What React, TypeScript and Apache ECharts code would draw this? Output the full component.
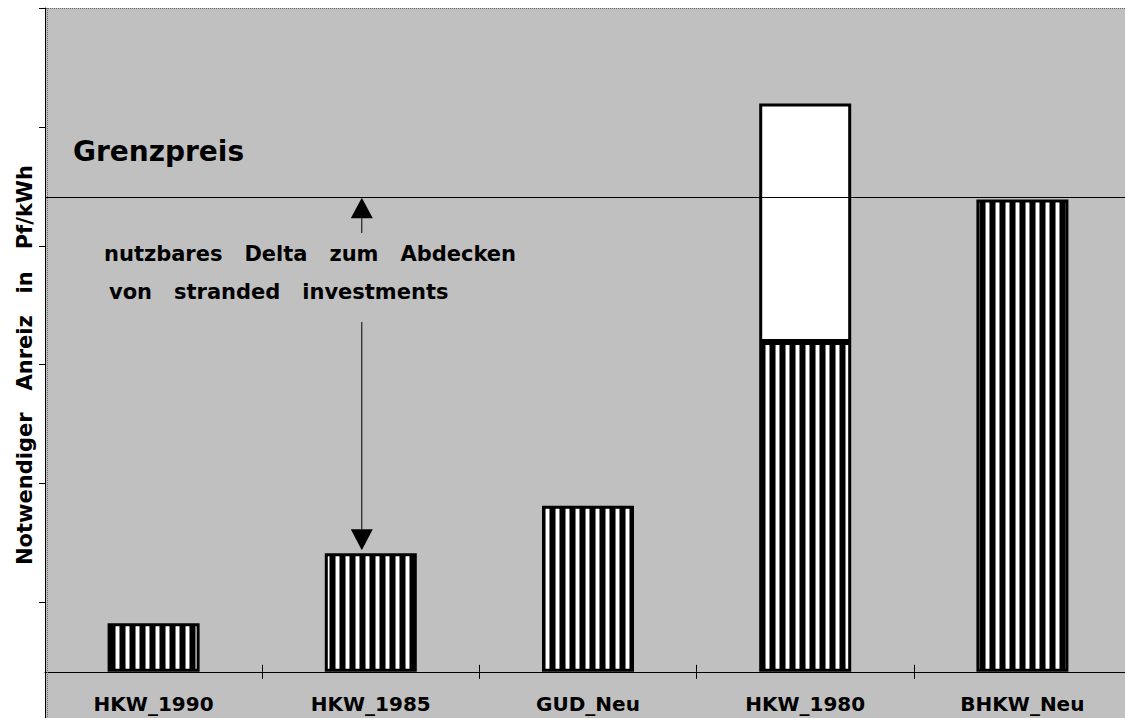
import React, { useEffect, useRef } from 'react';
import * as echarts from 'echarts';

// ---- data ----
const categories = ['HKW_1990', 'HKW_1985', 'GUD_Neu', 'HKW_1980', 'BHKW_Neu'];
const baseValues = [0.41, 1.0, 1.4, 2.78, 3.98];
const extraValues: (number | null)[] = [null, null, null, 2.01, null];
const grenzpreis = 4.0;
const yMin = -0.406;
const yMax = 5.594;
const yInterval = 1;
const yAxisTitle = 'Notwendiger   Anreiz   in   Pf/kWh';
const grenzLabel = 'Grenzpreis';
const deltaLines = ['nutzbares   Delta   zum   Abdecken', 'von   stranded   investments'];

const FONT = '"DejaVu Sans", "Liberation Sans", Arial, sans-serif';

function makeStripes(): HTMLCanvasElement {
  const c = document.createElement('canvas');
  c.width = 10;
  c.height = 10;
  const ctx = c.getContext('2d')!;
  ctx.fillStyle = '#ffffff';
  ctx.fillRect(0, 0, 10, 10);
  ctx.fillStyle = '#000000';
  ctx.fillRect(0, 0, 5, 10);
  ctx.fillStyle = '#7a7a7a';
  ctx.fillRect(5, 0, 1, 10);
  ctx.fillRect(9, 0, 1, 10);
  return c;
}

export default function App() {
  const ref = useRef<HTMLDivElement>(null);

  useEffect(() => {
    if (!ref.current) return;
    const chart = echarts.init(ref.current, undefined, { renderer: 'svg' });
    const stripe: any = { image: makeStripes(), repeat: 'repeat', imageWidth: 10, imageHeight: 10 };

    const option: any = {
      animation: false,
      grid: {
        left: 45,
        right: -6,
        top: 8,
        bottom: -2,
        containLabel: false,
        outerBoundsMode: 'none',
        show: true,
        backgroundColor: '#c0c0c0',
        borderWidth: 0,
      },
      xAxis: [
        {
          type: 'category',
          data: categories,
          position: 'bottom',
          axisLine: { show: true, onZero: true, lineStyle: { color: '#000', width: 1 } },
          axisTick: { show: true, length: 7, lineStyle: { color: '#000', width: 1 } },
          axisLabel: { show: false },
          splitLine: { show: false },
        },
        {
          type: 'category',
          data: categories,
          position: 'top',
          axisLine: { show: false, onZero: true, onZeroAxisIndex: 0 },
          axisTick: { show: true, length: 7, lineStyle: { color: '#000', width: 1 } },
          axisLabel: { show: false },
          splitLine: { show: false },
        },
      ],
      yAxis: {
        type: 'value',
        min: yMin,
        max: yMax,
        interval: yInterval,
        axisLine: { show: true, lineStyle: { color: '#000', width: 1 } },
        axisTick: { show: true, length: 6, lineStyle: { color: '#000', width: 1 } },
        axisLabel: { show: false },
        splitLine: { show: false },
      },
      series: [
        {
          type: 'bar',
          name: 'base',
          stack: 's',
          data: baseValues,
          barWidth: 92,
          itemStyle: { color: stripe, borderColor: '#000', borderWidth: 3 },
        },
        {
          type: 'bar',
          name: 'extra',
          stack: 's',
          data: extraValues,
          barWidth: 92,
          itemStyle: { color: '#ffffff', borderColor: '#000', borderWidth: 3 },
          markLine: {
            silent: true,
            symbol: 'none',
            label: { show: false },
            lineStyle: { color: '#000', width: 1.2, type: 'solid' },
            data: [{ yAxis: grenzpreis }],
          },
        },
      ],
    };
    chart.setOption(option);

    const ax = (chart.convertToPixel({ xAxisIndex: 0 }, categories[1]) as number) - 9;
    const yTop = chart.convertToPixel({ yAxisIndex: 0 }, grenzpreis) as number;
    const yZero = chart.convertToPixel({ yAxisIndex: 0 }, 0) as number;
    const yBar = chart.convertToPixel({ yAxisIndex: 0 }, baseValues[1]) as number;
    const head = 21;
    const half = 11;

    const catLabels = categories.map((c) => ({
      type: 'text',
      silent: true,
      style: {
        text: c,
        x: chart.convertToPixel({ xAxisIndex: 0 }, c) as number,
        y: yZero + 32,
        fill: '#000',
        font: `bold 20px ${FONT}`,
        textAlign: 'center',
        textVerticalAlign: 'middle',
      },
    }));

    const graphic: any[] = [
      {
        type: 'line',
        silent: true,
        z: 1,
        shape: { x1: 46, y1: 8.5, x2: 1125, y2: 8.5 },
        style: { stroke: '#6a6a6a', lineWidth: 1, lineDash: [1, 1] },
      },
      {
        type: 'line',
        silent: true,
        z: 1,
        shape: { x1: 47.5, y1: 8, x2: 47.5, y2: 718 },
        style: { stroke: '#6a6a6a', lineWidth: 1, lineDash: [1, 1] },
      },
      ...catLabels,
      {
        type: 'text',
        silent: true,
        style: {
          text: grenzLabel,
          x: 73,
          y: 151,
          fill: '#000',
          font: `bold 28px ${FONT}`,
          textAlign: 'left',
          textVerticalAlign: 'middle',
        },
      },
      {
        type: 'text',
        silent: true,
        style: {
          text: deltaLines[0],
          x: 104,
          y: 254,
          fill: '#000',
          font: `bold 21px ${FONT}`,
          textAlign: 'left',
          textVerticalAlign: 'middle',
        },
      },
      {
        type: 'text',
        silent: true,
        style: {
          text: deltaLines[1],
          x: 109,
          y: 292,
          fill: '#000',
          font: `bold 21px ${FONT}`,
          textAlign: 'left',
          textVerticalAlign: 'middle',
        },
      },
      {
        type: 'text',
        silent: true,
        x: 24.5,
        y: 365,
        rotation: Math.PI / 2,
        style: {
          text: yAxisTitle,
          x: 0,
          y: 0,
          fill: '#000',
          font: `bold 21px ${FONT}`,
          textAlign: 'center',
          textVerticalAlign: 'middle',
        },
      },
      // upper arrow
      {
        type: 'polygon',
        silent: true,
        z: 10,
        shape: { points: [[ax, yTop + 0.5], [ax - half, yTop + head], [ax + half, yTop + head]] },
        style: { fill: '#000' },
      },
      {
        type: 'line',
        silent: true,
        z: 10,
        shape: { x1: ax, y1: yTop + head, x2: ax, y2: 233 },
        style: { stroke: '#000', lineWidth: 1 },
      },
      // lower arrow
      {
        type: 'line',
        silent: true,
        z: 10,
        shape: { x1: ax, y1: 322, x2: ax, y2: yBar - 3 - head },
        style: { stroke: '#000', lineWidth: 1 },
      },
      {
        type: 'polygon',
        silent: true,
        z: 10,
        shape: { points: [[ax, yBar - 3], [ax - half, yBar - 3 - head], [ax + half, yBar - 3 - head]] },
        style: { fill: '#000' },
      },
    ];
    chart.setOption({ graphic });

    return () => {
      chart.dispose();
    };
  }, []);

  return (
    <div
      ref={ref}
      style={{ position: 'fixed', left: 0, top: 0, width: 1125, height: 718, background: '#fff' }}
    />
  );
}
